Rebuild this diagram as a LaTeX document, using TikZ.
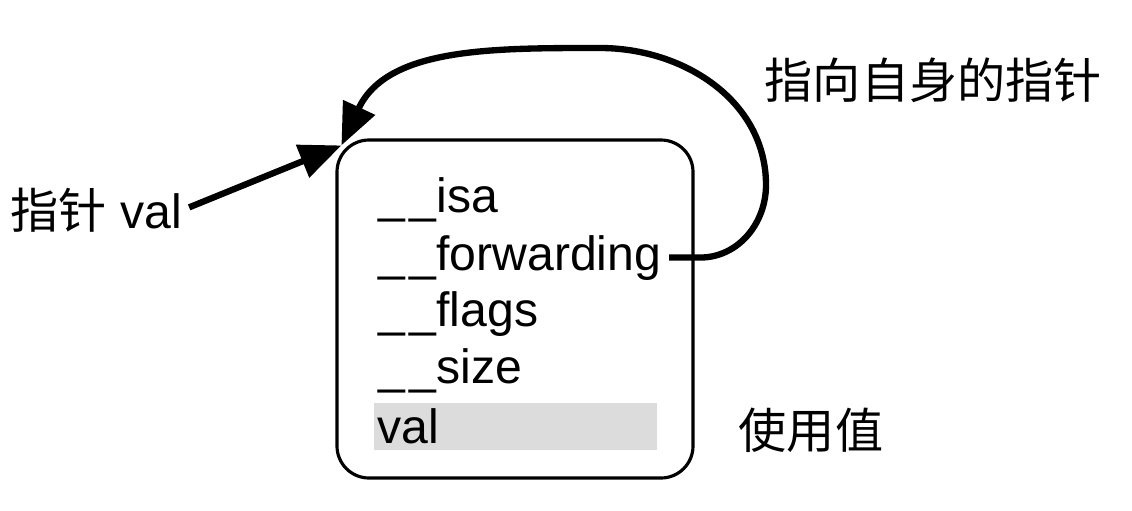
\documentclass[tikz,border=0pt]{standalone}
\usepackage{fontspec}
\usepackage{tikz}
\usepackage{xcolor}
\setmainfont{Liberation Sans}
\newfontfamily\cjk{Noto Sans CJK SC}
\usetikzlibrary{arrows.meta,positioning}
\definecolor{ValGray}{HTML}{DCDCDC}
\newcommand{\uscore}{\_\kern1.2pt\_}

\begin{document}
\begin{tikzpicture}[
      font=\fontsize{13.7}{16}\selectfont,
      >={Triangle[length=4.2mm,width=3.4mm]},
      block/.style={draw,line width=0.9pt,rounded corners=0.32cm,minimum width=3.56cm,minimum height=3.38cm},
      field/.style={anchor=base west,inner sep=0pt},
      note/.style={inner sep=0pt},
      arr/.style={->,line width=1.8pt}
    ]
      \useasboundingbox (0,0) rectangle (11.32,5.10);
      \node[block] (obj) at (5.15,2.01) {};
      \coordinate (corner) at ([shift={(0.06,-0.07)}]obj.north west);

      \node[field] (isa) at (3.78,2.98) {\uscore isa};
      \node[field] (fwd) at (3.78,2.40) {\uscore forwarding};
      \node[field] (flags) at (3.78,1.84) {\uscore flags};
      \node[field] (size) at (3.78,1.27) {\uscore size};
      \node[fill=ValGray,anchor=west,minimum width=2.83cm,minimum height=0.47cm,
            text width=2.75cm,inner xsep=0.04cm,inner ysep=0pt,align=left] (val) at (3.73,0.835) {val};

      \node[note,anchor=west] (ptr) at (0.10,3.00) {{\cjk 指针} val};
      \node[note,anchor=west] (self) at (7.64,4.30) {\cjk 指向自身的指针};
      \node[note,anchor=west] (use) at (7.38,0.80) {\cjk 使用值};

      \draw[arr,shorten <=2pt] (ptr.east) -- (corner);
      \draw[arr,shorten <=2pt] (fwd.east) -- ++(0.38,0)
        to[out=0,in=-90] (7.66,3.25)
        to[out=90,in=0] (6.0,4.62)
        to[out=180,in=65] (corner);
    \end{tikzpicture}
\end{document}
